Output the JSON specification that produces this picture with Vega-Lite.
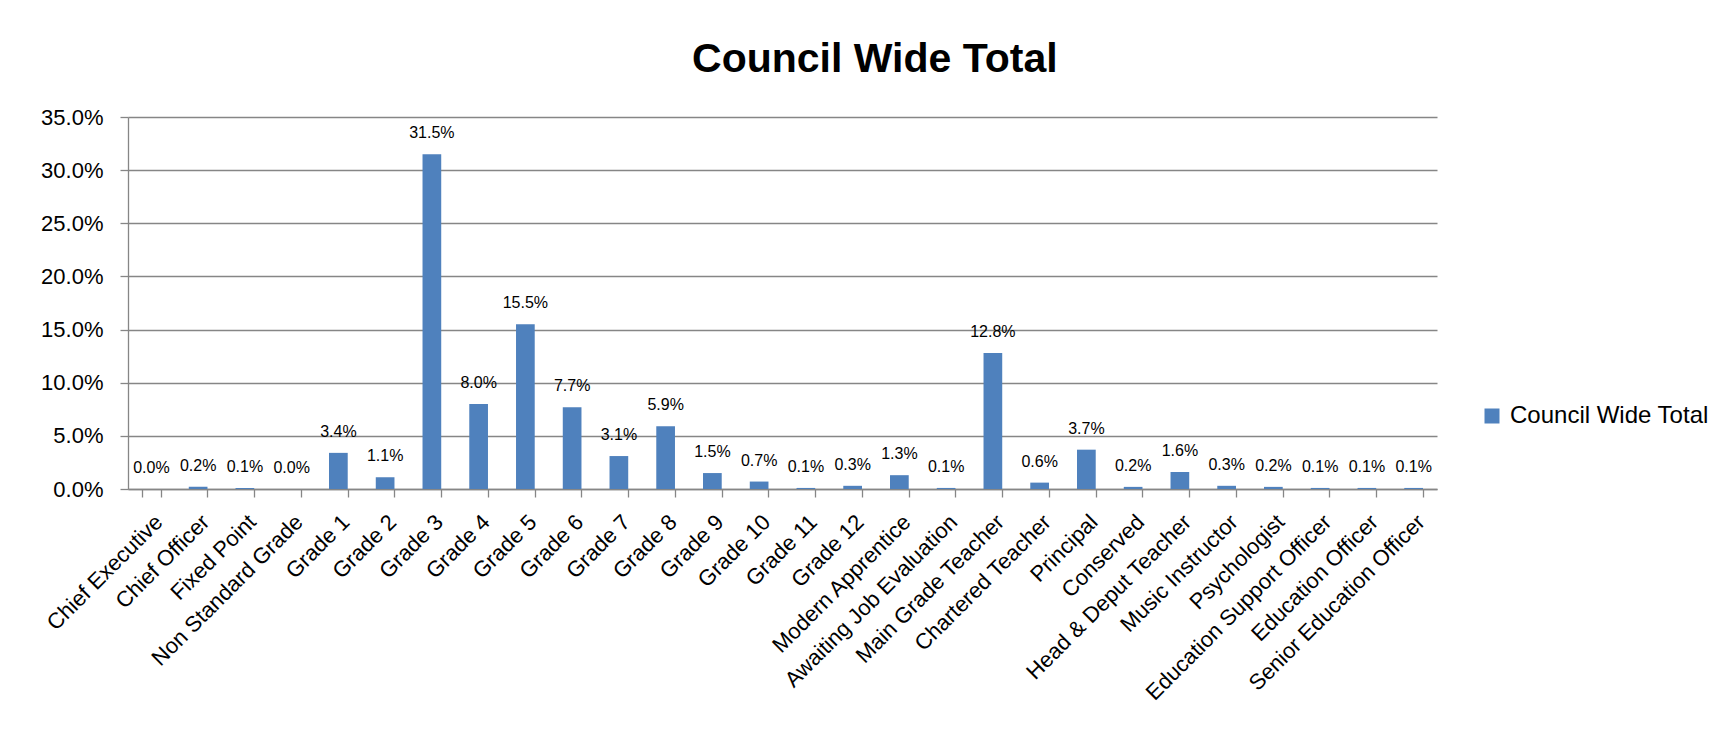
{
  "$schema": "https://vega.github.io/schema/vega-lite/v6.json",
  "autosize": {"type": "none"},
  "padding": {"left": 128, "top": 117, "right": 293, "bottom": 254},
  "width": 1309,
  "height": 372,
  "background": "white",
  "title": {
    "text": "Council Wide Total",
    "font": "Liberation Sans",
    "fontSize": 41,
    "fontWeight": "bold",
    "color": "#000000",
    "anchor": "middle",
    "frame": "bounds",
    "offset": 25
  },
  "config": {
    "view": {"stroke": null},
    "font": "Liberation Sans"
  },
  "data": {
    "values": [
      {"grade": "Chief Executive", "pct": 0.0},
      {"grade": "Chief Officer", "pct": 0.002},
      {"grade": "Fixed Point", "pct": 0.001},
      {"grade": "Non Standard Grade", "pct": 0.0},
      {"grade": "Grade 1", "pct": 0.034},
      {"grade": "Grade 2", "pct": 0.011},
      {"grade": "Grade 3", "pct": 0.315},
      {"grade": "Grade 4", "pct": 0.080},
      {"grade": "Grade 5", "pct": 0.155},
      {"grade": "Grade 6", "pct": 0.077},
      {"grade": "Grade 7", "pct": 0.031},
      {"grade": "Grade 8", "pct": 0.059},
      {"grade": "Grade 9", "pct": 0.015},
      {"grade": "Grade 10", "pct": 0.007},
      {"grade": "Grade 11", "pct": 0.001},
      {"grade": "Grade 12", "pct": 0.003},
      {"grade": "Modern Apprentice", "pct": 0.013},
      {"grade": "Awaiting Job Evaluation", "pct": 0.001},
      {"grade": "Main Grade Teacher", "pct": 0.128},
      {"grade": "Chartered Teacher", "pct": 0.006},
      {"grade": "Principal", "pct": 0.037},
      {"grade": "Conserved", "pct": 0.002},
      {"grade": "Head & Deput Teacher", "pct": 0.016},
      {"grade": "Music Instructor", "pct": 0.003},
      {"grade": "Psychologist", "pct": 0.002},
      {"grade": "Education Support Officer", "pct": 0.001},
      {"grade": "Education Officer", "pct": 0.001},
      {"grade": "Senior Education Officer", "pct": 0.001}
    ]
  },
  "encoding": {
    "x": {
      "field": "grade",
      "type": "nominal",
      "sort": null,
      "title": null,
      "scale": {"paddingInner": 0.6, "paddingOuter": 0.3},
      "axis": {
        "labelAngle": -45,
        "labelAlign": "right",
        "labelBaseline": "top",
        "labelFontSize": 22,
        "labelColor": "#000000",
        "labelPadding": 14,
        "labelDx": 2,
        "labelLimit": 400,
        "tickBand": "extent",
        "tickSize": 8,
        "tickColor": "#868686",
        "domainColor": "#868686",
        "domainWidth": 1.3,
        "tickWidth": 1.3
      }
    },
    "y": {
      "field": "pct",
      "type": "quantitative",
      "title": null,
      "scale": {"domain": [0, 0.35], "nice": false},
      "axis": {
        "values": [0, 0.05, 0.1, 0.15, 0.2, 0.25, 0.3, 0.35],
        "format": ".1%",
        "labelFontSize": 22,
        "labelColor": "#000000",
        "labelPadding": 17,
        "tickSize": 8,
        "tickColor": "#868686",
        "domainColor": "#868686",
        "domainWidth": 1.3,
        "tickWidth": 1.3,
        "grid": true,
        "gridColor": "#868686",
        "gridWidth": 1.3
      }
    }
  },
  "layer": [
    {
      "mark": {"type": "bar"},
      "encoding": {
        "color": {
          "datum": "Council Wide Total",
          "type": "nominal",
          "scale": {"range": ["#4F81BD"]},
          "legend": {
            "title": null,
            "orient": "none",
            "legendX": 1352,
            "legendY": 287,
            "padding": 0,
            "symbolType": "square",
            "symbolSize": 225,
            "symbolStrokeWidth": 0,
            "labelFontSize": 24,
            "labelColor": "#000000",
            "labelOffset": 6,
            "labelLimit": 400
          }
        }
      }
    },
    {
      "mark": {"type": "text", "fontSize": 16, "color": "#000000", "baseline": "alphabetic", "dy": -16},
      "encoding": {
        "text": {"field": "pct", "type": "quantitative", "format": ".1%"}
      }
    }
  ]
}
